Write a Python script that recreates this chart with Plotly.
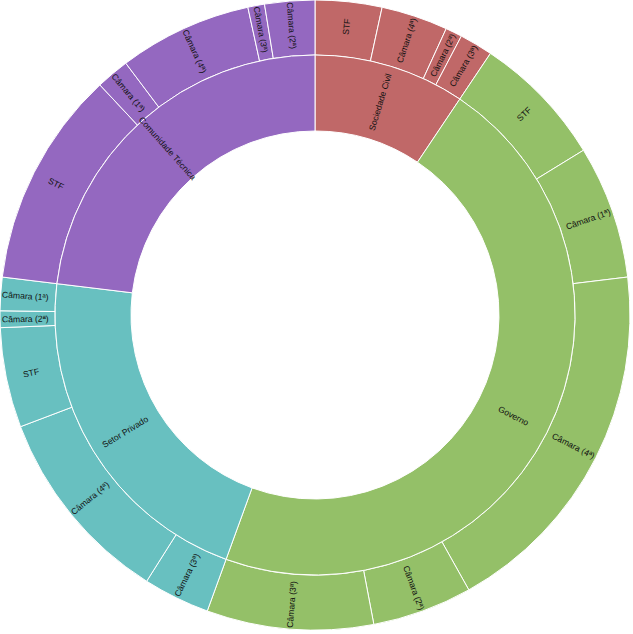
import math
import plotly.graph_objects as go

# ---- data ----
categories = ["Sociedade Civil", "Governo", "Setor Privado", "Comunidade Técnica"]
cat_colors = ["#C06868", "#94C068", "#68C0C0", "#9468C0"]

soc_labels = ["STF", "Câmara (4ª)", "Câmara (2ª)", "Câmara (3ª)"]
soc_values = [4, 4, 1, 2]

gov_labels = ["STF", "Câmara (1ª)", "Câmara (4ª)", "Câmara (2ª)", "Câmara (3ª)"]
gov_values = [8, 8, 22, 6, 10]

priv_labels = ["Câmara (3ª)", "Câmara (4ª)", "STF", "Câmara (2ª)", "Câmara (1ª)"]
priv_values = [4, 12, 6, 1, 2]

tec_labels = ["STF", "Câmara (1ª)", "Câmara (4ª)", "Câmara (3ª)", "Câmara (2ª)"]
tec_values = [13, 2, 8, 1, 3]

sub_labels = [soc_labels, gov_labels, priv_labels, tec_labels]
sub_values = [soc_values, gov_values, priv_values, tec_values]

# ---- build traces ----
cat_totals = [sum(v) for v in sub_values]
grand_total = sum(cat_totals)

outer_ids, outer_text, outer_vals, outer_cols = [], [], [], []
for cat, col, labs, vals in zip(categories, cat_colors, sub_labels, sub_values):
    for lab, val in zip(labs, vals):
        outer_ids.append(f"{cat} - {lab}")
        outer_text.append(lab)
        outer_vals.append(val)
        outer_cols.append(col)

SIZE = 630
R_OUT = 315.0
R_MID = 260.0
R_HOLE = 184.0
inner_frac = R_MID / R_OUT / 2

font = dict(family="Liberation Sans, Arial, sans-serif", size=8.6, color="#111111")

fig = go.Figure()
fig.add_trace(go.Pie(
    labels=outer_ids, values=outer_vals, textinfo="none",
    sort=False, direction="clockwise", rotation=0,
    hole=R_MID / R_OUT,
    marker=dict(colors=outer_cols, line=dict(color="white", width=1)),
    showlegend=False, hoverinfo="label+value",
    domain=dict(x=[0, 1], y=[0, 1]),
))
fig.add_trace(go.Pie(
    labels=categories, values=cat_totals, textinfo="none",
    sort=False, direction="clockwise", rotation=0,
    hole=R_HOLE / R_MID,
    marker=dict(colors=cat_colors, line=dict(color="white", width=1)),
    showlegend=False, hoverinfo="label+value",
    domain=dict(x=[0.5 - inner_frac, 0.5 + inner_frac], y=[0.5 - inner_frac, 0.5 + inner_frac]),
))


def radial_label(text, start, value, radius):
    mid = (start + value / 2) / grand_total * 360.0
    rot = mid - 90
    if rot > 90:
        rot -= 180
    rad = math.radians(mid)
    return dict(
        text=text, xref="paper", yref="paper",
        x=0.5 + radius * math.sin(rad) / SIZE,
        y=0.5 + radius * math.cos(rad) / SIZE,
        xanchor="center", yanchor="middle", textangle=rot,
        showarrow=False, font=font,
    )


annotations = []
acc = 0
for cat, total in zip(categories, cat_totals):
    annotations.append(radial_label(cat, acc, total, 223))
    acc += total
acc = 0
for txt, val in zip(outer_text, outer_vals):
    annotations.append(radial_label(txt, acc, val, 290))
    acc += val

fig.update_layout(
    width=SIZE, height=SIZE,
    margin=dict(l=0, r=0, t=0, b=0),
    paper_bgcolor="white", plot_bgcolor="white",
    annotations=annotations,
)

fig.write_html("out.html", config={"displayModeBar": False},
               post_script="document.body.style.margin='0';")
